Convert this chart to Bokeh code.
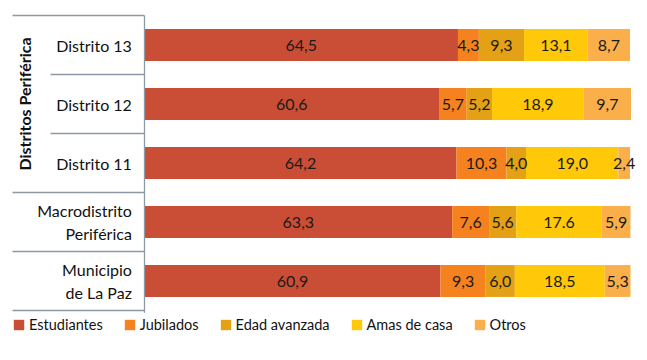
import numpy as np
from bokeh.plotting import figure
from bokeh.models import Range1d, ColumnDataSource, Legend, LegendItem
from bokeh.core.properties import value
from bokeh.embed import file_html
from bokeh.resources import INLINE

categories = ["Distrito 13", "Distrito 12", "Distrito 11", "Macrodistrito\nPeriférica", "Municipio\nde La Paz"]
series = ["Estudiantes", "Jubilados", "Edad avanzada", "Amas de casa", "Otros"]
estudiantes = [64.5, 60.6, 64.2, 63.3, 60.9]
jubilados = [4.3, 5.7, 10.3, 7.6, 9.3]
edad_avanzada = [9.3, 5.2, 4.0, 5.6, 6.0]
amas_de_casa = [13.1, 18.9, 19.0, 17.6, 18.5]
otros = [8.7, 9.7, 2.4, 5.9, 5.3]
value_labels = [
    ["64,5", "60,6", "64,2", "63,3", "60,9"],
    ["4,3", "5,7", "10,3", "7,6", "9,3"],
    ["9,3", "5,2", "4,0", "5,6", "6,0"],
    ["13,1", "18,9", "19,0", "17.6", "18,5"],
    ["8,7", "9,7", "2,4", "5,9", "5,3"],
]
group_label = "Distritos Periférica"
colors = ["#CA4E36", "#F5821F", "#E4A116", "#FFC909", "#FBAF4A"]

FONT = "Lato"
W, H = 640, 352
PPU = 4.86          # pixels per percent
X0 = 144            # pixel of x=0 in the figure
ROW = 59            # pixels per row
TOP = 15            # pixel of the top table line

p = figure(width=W, height=H, output_backend="svg", toolbar_location=None,
           x_axis_type=None, y_axis_type=None,
           x_range=Range1d(-X0 / PPU, (W - X0) / PPU),
           y_range=Range1d(5 - (H - TOP) / ROW, 5 + TOP / ROW),
           min_border=0, min_border_left=0, min_border_right=0,
           min_border_top=0, min_border_bottom=0)
p.outline_line_color = None
p.grid.visible = False

n = len(categories)
ys = [n - i - 0.5 for i in range(n)]
data = {"y": ys}
vals = [estudiantes, jubilados, edad_avanzada, amas_de_casa, otros]
for s, v in zip(series, vals):
    data[s] = v
src = ColumnDataSource(data)
rs = p.hbar_stack(series, y="y", height=0.54, color=colors, source=src, line_width=0)

# value labels
arr = np.array(vals)
cum = np.cumsum(arr, axis=0)
mids = cum - arr / 2
lx, ly, lt = [], [], []
for j in range(len(series)):
    for i in range(n):
        lx.append(mids[j, i]); ly.append(ys[i]); lt.append(value_labels[j][i])
p.text(x=lx, y=ly, text=lt, text_align="center", text_baseline="middle",
       text_font=value(FONT), text_font_size="16px", text_color="#1a1a1a")

# table lines
lc = "#8d99a4"
x_left = (12 - X0) / PPU
x_inner = (50 - X0) / PPU
p.segment(x0=[x_left, x_inner, x_inner, x_left, x_left, x_left],
          y0=[5, 4, 3, 2, 1, 0],
          x1=[0] * 6, y1=[5, 4, 3, 2, 1, 0], line_color=lc, line_width=1.3)
p.segment(x0=[0], y0=[-0.04], x1=[0], y1=[5], line_color=lc, line_width=1.3)

# category labels
p.text(x=[-2.6] * n, y=ys, text=categories, text_align="right", text_baseline="middle",
       text_font=value(FONT), text_font_size="16px", text_color="#111111",
       text_line_height=1.2)

# group label
p.text(x=[(24 - X0) / PPU], y=[3.5], text=[group_label], angle=np.pi / 2,
       text_align="center", text_baseline="middle", text_font=value(FONT),
       text_font_size="16px", text_font_style="bold", text_color="#111111")

legend = Legend(items=[LegendItem(label=s, renderers=[r]) for s, r in zip(series, rs)],
                orientation="horizontal", location=(12, 19),
                glyph_width=13, glyph_height=13, label_standoff=4, spacing=20,
                padding=0, margin=0, border_line_color=None, background_fill_alpha=0,
                label_text_font=FONT, label_text_font_size="14.5px", label_text_color="#111111",
                label_height=13)
p.add_layout(legend, "center")

open("out.html", "w").write(file_html(p, INLINE))
